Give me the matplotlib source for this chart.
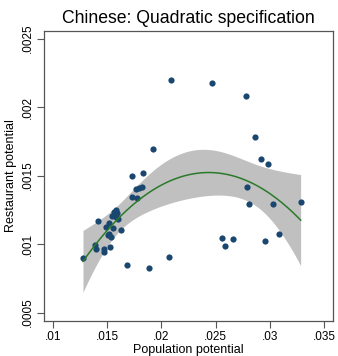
import numpy as np
import matplotlib
matplotlib.use("Agg")
import matplotlib.pyplot as plt
from matplotlib.ticker import FuncFormatter

# population potential / restaurant potential
pop = [0.02086, 0.01925, 0.01726, 0.01827, 0.02470, 0.02780, 0.02863, 0.02916,
       0.02986, 0.01729, 0.01766, 0.01790, 0.01824, 0.01772, 0.01581, 0.01593,
       0.01544, 0.01578, 0.01600, 0.01412, 0.01517, 0.01489, 0.01553, 0.01627,
       0.01514, 0.01504, 0.01532, 0.01387, 0.01400, 0.01473, 0.01468, 0.01526,
       0.01277, 0.01680, 0.01886, 0.02067, 0.02793, 0.02811, 0.03033, 0.03285,
       0.02556, 0.02584, 0.02658, 0.02959, 0.03085, 0.01570, 0.01560]
rest = [0.002197, 0.001696, 0.001499, 0.001518, 0.002175, 0.002078, 0.001779, 0.001620,
        0.001586, 0.001345, 0.001399, 0.001409, 0.001414, 0.001336, 0.001248, 0.001228,
        0.001204, 0.001195, 0.001185, 0.001168, 0.001151, 0.001126, 0.001119, 0.001102,
        0.001073, 0.001063, 0.001053, 0.000995, 0.000961, 0.000961, 0.000944, 0.000978,
        0.000898, 0.000849, 0.000825, 0.000905, 0.001414, 0.001294, 0.001292, 0.001309,
        0.001042, 0.000988, 0.001034, 0.001020, 0.001075, 0.001215, 0.001235]

xticks = [0.01, 0.015, 0.02, 0.025, 0.03, 0.035]
yticks = [0.0005, 0.001, 0.0015, 0.002, 0.0025]

x = np.array(pop)
y = np.array(rest)

# quadratic fit with 95% CI of the mean prediction
X = np.column_stack([np.ones_like(x), x, x**2])
beta, res, _, _ = np.linalg.lstsq(X, y, rcond=None)
n = len(x)
resid = y - X @ beta
s2 = resid @ resid / (n - 3)
cov = s2 * np.linalg.inv(X.T @ X)
xg = np.linspace(x.min(), x.max(), 200)
Xg = np.column_stack([np.ones_like(xg), xg, xg**2])
yg = Xg @ beta
se = np.sqrt(np.einsum("ij,jk,ik->i", Xg, cov, Xg))
lo = yg - 2.014 * se
hi = yg + 2.014 * se

plt.rcParams['font.family'] = ['Liberation Sans', 'DejaVu Sans']

fig = plt.figure(figsize=(3.38, 3.56), dpi=100)
ax = fig.add_axes([0.130, 0.098, 0.855, 0.815])

ax.fill_between(xg, lo, hi, color="#c0c0c0", lw=0, zorder=1)
ax.scatter(x, y, s=20, color="#1a476f", lw=0, zorder=2)
ax.plot(xg, yg, color="#2a7a2a", lw=1.1, zorder=3)

ax.set_xlim(0.00917, 0.03583)
ax.set_ylim(0.000438, 0.002555)
ax.set_xticks(xticks)
ax.set_yticks(yticks)
fmt = FuncFormatter(lambda v, p: ("%g" % v).lstrip("0"))
ax.xaxis.set_major_formatter(fmt)
ax.yaxis.set_major_formatter(fmt)
ax.tick_params(axis="both", direction="out", length=5, width=0.8,
               color="#555555", labelsize=8.5, pad=2)
for lab in ax.get_yticklabels():
    lab.set_rotation(90)
    lab.set_va("center")
for sp in ax.spines.values():
    sp.set_color("#555555")
    sp.set_linewidth(0.9)

ax.set_xlabel("Population potential", fontsize=9, labelpad=1)
ax.set_ylabel("Restaurant potential", fontsize=9, labelpad=4)
ax.set_title("Chinese: Quadratic specification", fontsize=12.7, pad=6)

fig.savefig("out.png", dpi=100)
